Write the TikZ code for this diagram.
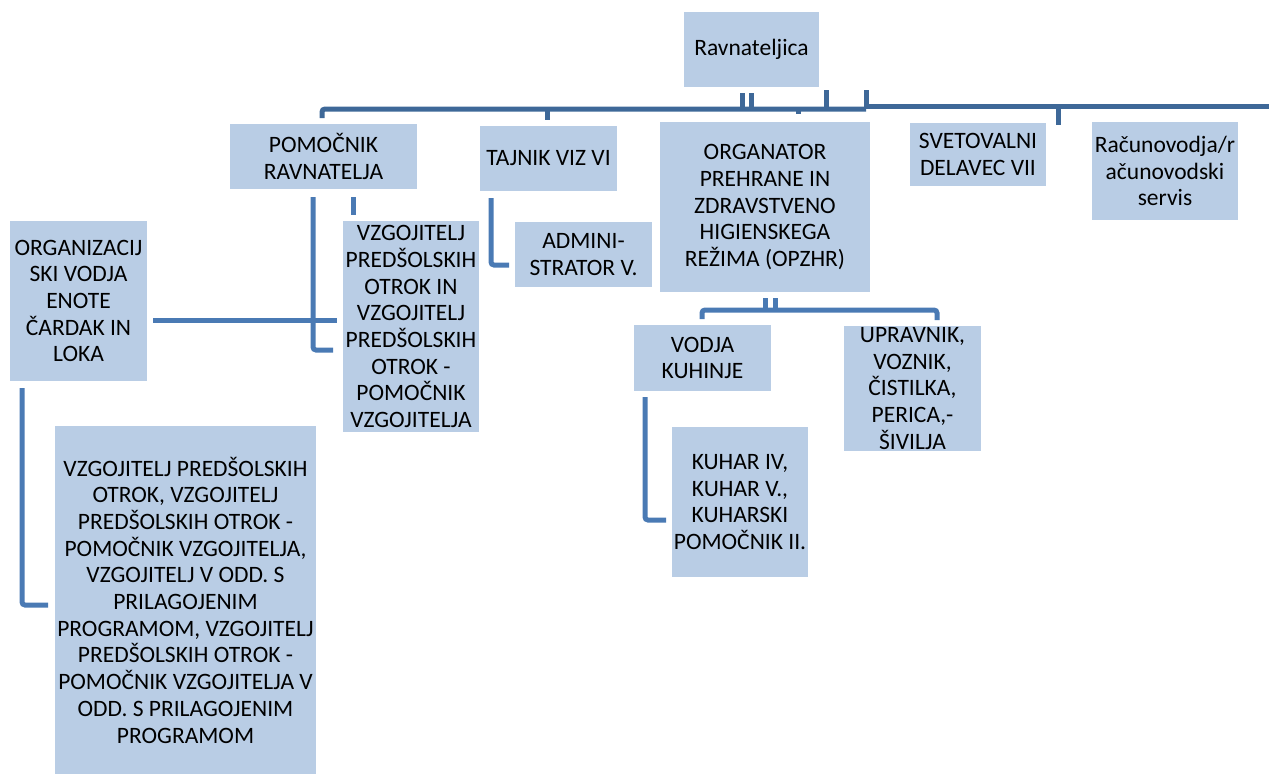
\documentclass[tikz,border=0pt]{standalone}
\usepackage{fontspec}
\setmainfont{Carlito}
\usetikzlibrary{fit}
\definecolor{boxfill}{HTML}{B9CDE5}
\definecolor{busblue}{HTML}{3E6898}
\definecolor{lineblue}{HTML}{4A7AB4}
\tikzset{
  box/.style={fill=boxfill, draw=none, inner sep=0pt, outer sep=0pt},
  txt/.style={align=center, inner sep=0pt, text=black, font=\fontsize{23.5}{26.7}\selectfont},
  bus/.style={draw=busblue, line width=5pt, rounded corners=3pt},
  conn/.style={draw=lineblue, line width=5pt, rounded corners=3pt},
}
\begin{document}
\begin{tikzpicture}[x=1pt,y=-1pt]
\useasboundingbox (0,0) rectangle (1269,774);
% boxes
\node[box, fit={(684,12) (819,87)}] (rav) {};
\node[box, fit={(230,124) (417,189)}] (pom) {};
\node[box, fit={(480,126) (617,191)}] (taj) {};
\node[box, fit={(660,122) (870,292)}] (org) {};
\node[box, fit={(910,123) (1046,186)}] (svet) {};
\node[box, fit={(1092,122) (1238,220)}] (rac) {};
\node[box, fit={(10,221) (147,381)}] (ov) {};
\node[box, fit={(343,221) (479,432)}] (vzm) {};
\node[box, fit={(515,222) (652,287)}] (adm) {};
\node[box, fit={(634,325) (771,391)}] (vk) {};
\node[box, fit={(844,326) (981,451)}] (upr) {};
\node[box, fit={(672,427) (808,577)}] (kuh) {};
\node[box, fit={(55,426) (316,774)}] (big) {};
% texts
\node[txt] at (rav) {Ravnateljica};
\node[txt] at (pom) {POMOČNIK\\RAVNATELJA};
\node[txt] at (taj) {TAJNIK VIZ VI};
\node[txt] at (org) {ORGANATOR\\PREHRANE IN\\ZDRAVSTVENO\\HIGIENSKEGA\\REŽIMA (OPZHR)};
\node[txt] at (svet) {SVETOVALNI\\DELAVEC VII};
\node[txt] at (rac) {Računovodja/r\\ačunovodski\\servis};
\node[txt] at (ov) {ORGANIZACIJ\\SKI VODJA\\ENOTE\\ČARDAK IN\\LOKA};
\node[txt] at (vzm) {VZGOJITELJ\\PREDŠOLSKIH\\OTROK IN\\VZGOJITELJ\\PREDŠOLSKIH\\OTROK -\\POMOČNIK\\VZGOJITELJA};
\node[txt] at (adm) {ADMINI-\\STRATOR V.};
\node[txt] at (vk) {VODJA\\KUHINJE};
\node[txt] at (upr) {UPRAVNIK,\\VOZNIK,\\ČISTILKA,\\PERICA,-\\ŠIVILJA};
\node[txt] at (kuh) {KUHAR IV,\\KUHAR V.,\\KUHARSKI\\POMOČNIK II.};
\node[txt] at (big) {VZGOJITELJ PREDŠOLSKIH\\OTROK, VZGOJITELJ\\PREDŠOLSKIH OTROK -\\POMOČNIK VZGOJITELJA,\\VZGOJITELJ V ODD. S\\PRILAGOJENIM\\PROGRAMOM, VZGOJITELJ\\PREDŠOLSKIH OTROK -\\POMOČNIK VZGOJITELJA V\\ODD. S PRILAGOJENIM\\PROGRAMOM};
% coordinates of the top bus
\coordinate (ravA) at (742,93);
\coordinate (ravB) at (751,93);
\coordinate (ravC) at (826,90);
\coordinate (ravD) at (866,90);
\coordinate (busL) at (322,109);
\coordinate (busM) at (866,109);
\coordinate (busR) at (1269,106.5);
\coordinate (pomT) at (322,118);
\coordinate (tajT) at (547,120);
\coordinate (orgT) at (798,114);
\coordinate (svetT) at (1058,125);
% top bus
\draw[bus] (pomT) -- (busL) -- (busM);
\draw[bus] (busM |- busR) -- (busR);
\draw[bus] (ravA) -- (ravA |- busL);
\draw[bus] (ravB) -- (ravB |- busL);
\draw[bus] (ravC) -- (ravC |- busL);
\draw[bus] (ravD) -- (ravD |- busR);
\draw[bus] (tajT |- busL) -- (tajT);
\draw[bus] (orgT |- busL) -- (orgT);
\draw[bus] (svetT |- busR) -- (svetT);
% organator bus
\coordinate (oA) at (765,298);
\coordinate (oB) at (775,298);
\coordinate (oL) at (702,319);
\coordinate (oR) at (937,320);
\coordinate (oBar) at (0,310);
\draw[conn] (oA) -- (oA |- oBar);
\draw[conn] (oB) -- (oB |- oBar);
\draw[conn] (oL) -- (oL |- oBar) -- (oR |- oBar) -- (oR);
% pomocnik connectors
\coordinate (pA) at (313,197);
\coordinate (pB) at (333,350);
\coordinate (pC) at (353,197);
\coordinate (pD) at (353,215);
\coordinate (ovR) at (153,320);
\coordinate (vzL) at (337,320);
\draw[conn] (pA) -- (pA |- pB) -- (pB);
\draw[conn] (ovR) -- (vzL);
\draw[conn] (pC) -- (pD);
% tajnik connector
\coordinate (tA) at (491,198);
\coordinate (tB) at (509,265);
\draw[conn] (tA) -- (tA |- tB) -- (tB);
% organizacijski vodja connector
\coordinate (lA) at (22,388);
\coordinate (lB) at (48,605);
\draw[conn] (lA) -- (lA |- lB) -- (lB);
% vodja kuhinje connector
\coordinate (kA) at (645,397);
\coordinate (kB) at (666,520);
\draw[conn] (kA) -- (kA |- kB) -- (kB);
\end{tikzpicture}
\end{document}
